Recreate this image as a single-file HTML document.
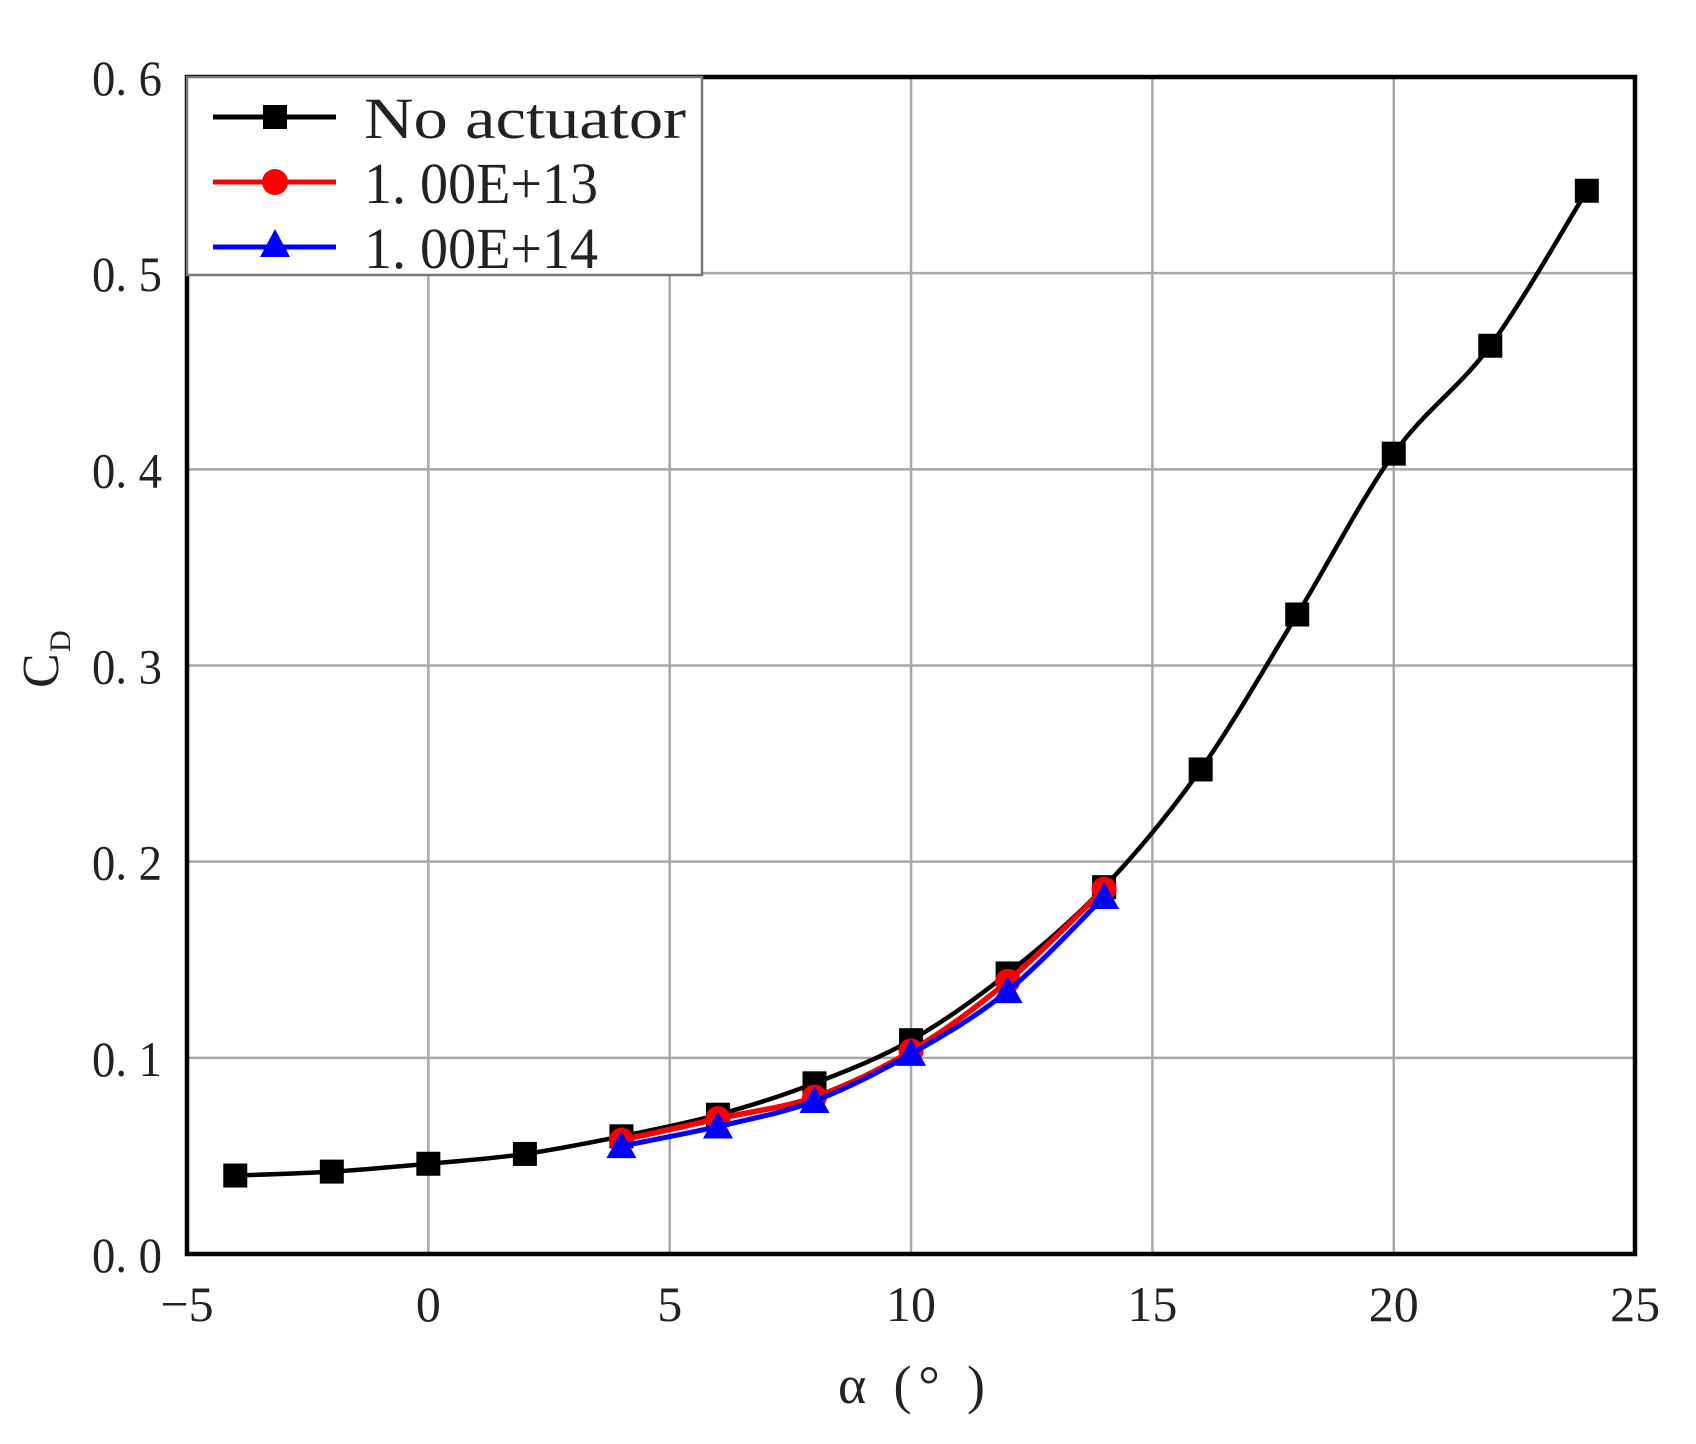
<!DOCTYPE html>
<html><head><meta charset="utf-8"><style>
html,body{margin:0;padding:0;background:#fff;}
svg{display:block;}
text{font-family:"Liberation Serif","Noto Serif CJK SC",serif;fill:#222;}
</style></head><body>
<svg id="s" width="1696" height="1444" viewBox="0 0 1696 1444" xmlns="http://www.w3.org/2000/svg">
<rect width="1696" height="1444" fill="#fff"/>
<g id="grid" stroke="#a8a8a8" stroke-width="2.5"></g>
<g id="ticks"></g>
<g id="series"></g>
<rect x="187" y="77" width="1448" height="1177" fill="none" stroke="#000" stroke-width="4.5"/>
<rect x="187" y="77" width="515" height="198" fill="#fff" stroke="#777" stroke-width="2.5"/>
<line x1="213" y1="117" x2="336" y2="117" stroke="#000" stroke-width="5"/>
<rect x="263" y="105" width="24" height="24" fill="#000"/>
<line x1="213" y1="182" x2="336" y2="182" stroke="#f00" stroke-width="5"/>
<circle cx="275" cy="182" r="13" fill="#f00"/>
<line x1="213" y1="247" x2="336" y2="247" stroke="#00f" stroke-width="5"/>
<polygon points="275,229 290,257 260,257" fill="#00f"/>
<text x="364" y="138" font-size="58" textLength="322" lengthAdjust="spacingAndGlyphs">No actuator</text>
<text x="364" y="203" font-size="58" textLength="234" lengthAdjust="spacingAndGlyphs">1. 00E+13</text>
<text x="364" y="268" font-size="58" textLength="234" lengthAdjust="spacingAndGlyphs">1. 00E+14</text>
<text x="838" y="1403" font-size="54" textLength="147" lengthAdjust="spacing">α (°  )</text>
<g transform="translate(58,688) rotate(-90)"><text x="0" y="0" font-size="52">C</text><text x="36" y="12" font-size="30">D</text></g>
</svg>
<script>
const X=a=>187+(a+5)*48.27, Y=v=>1254-v*1961.7;
const NS="http://www.w3.org/2000/svg";
function el(p,t,a){const e=document.createElementNS(NS,t);for(const k in a)e.setAttribute(k,a[k]);p.appendChild(e);return e;}
const g=document.getElementById('grid'),tk=document.getElementById('ticks'),se=document.getElementById('series');
for(let a=0;a<=20;a+=5)el(g,'line',{x1:X(a),y1:77,x2:X(a),y2:1254});
for(let i=1;i<=5;i++)el(g,'line',{x1:187,y1:Y(i/10),x2:1635,y2:Y(i/10)});
for(let i=0;i<=6;i++){const t=el(tk,'text',{x:162,y:Y(i/10)+18,'font-size':50,'text-anchor':'end',textLength:70,lengthAdjust:'spacingAndGlyphs'});t.textContent='0. '+i;}
[-5,0,5,10,15,20,25].forEach(a=>{const t=el(tk,'text',{x:X(a),y:1321,'font-size':50,'text-anchor':'middle'});t.textContent=a<0?'−5':a;});
function path(pts){let d='M'+pts[0][0]+','+pts[0][1];for(let i=0;i<pts.length-1;i++){const p0=pts[i-1]||pts[i],p1=pts[i],p2=pts[i+1],p3=pts[i+2]||p2;
const c1=[p1[0]+(p2[0]-p0[0])/6,p1[1]+(p2[1]-p0[1])/6],c2=[p2[0]-(p3[0]-p1[0])/6,p2[1]-(p3[1]-p1[1])/6];d+=' C'+c1+' '+c2+' '+p2;}return d;}
const A=[-4,-2,0,2,4,6,8,10,12,14,16,18,20,22,24];
const B=[0.040,0.042,0.046,0.051,0.060,0.071,0.087,0.109,0.143,0.187,0.247,0.326,0.408,0.463,0.542];
const R=[0.058,0.069,0.080,0.1035,0.139,0.186],Bl=[0.055,0.065,0.078,0.102,0.134,0.182];
const A2=[4,6,8,10,12,14];
const pb=A.map((a,i)=>[X(a),Y(B[i])]),pr=A2.map((a,i)=>[X(a),Y(R[i])]),pl=A2.map((a,i)=>[X(a),Y(Bl[i])]);
el(se,'path',{d:path(pb),fill:'none',stroke:'#000','stroke-width':4.5});
pb.forEach(p=>el(se,'rect',{x:p[0]-12,y:p[1]-12,width:24,height:24,fill:'#000'}));
el(se,'path',{d:path(pr),fill:'none',stroke:'#f00','stroke-width':5.5});
pr.forEach(p=>el(se,'circle',{cx:p[0],cy:p[1],r:12.5,fill:'#f00'}));
el(se,'path',{d:path(pl),fill:'none',stroke:'#00f','stroke-width':5});
pl.forEach(p=>el(se,'polygon',{points:`${p[0]},${p[1]-15} ${p[0]+15},${p[1]+12} ${p[0]-15},${p[1]+12}`,fill:'#00f'}));
</script>
</body></html>
